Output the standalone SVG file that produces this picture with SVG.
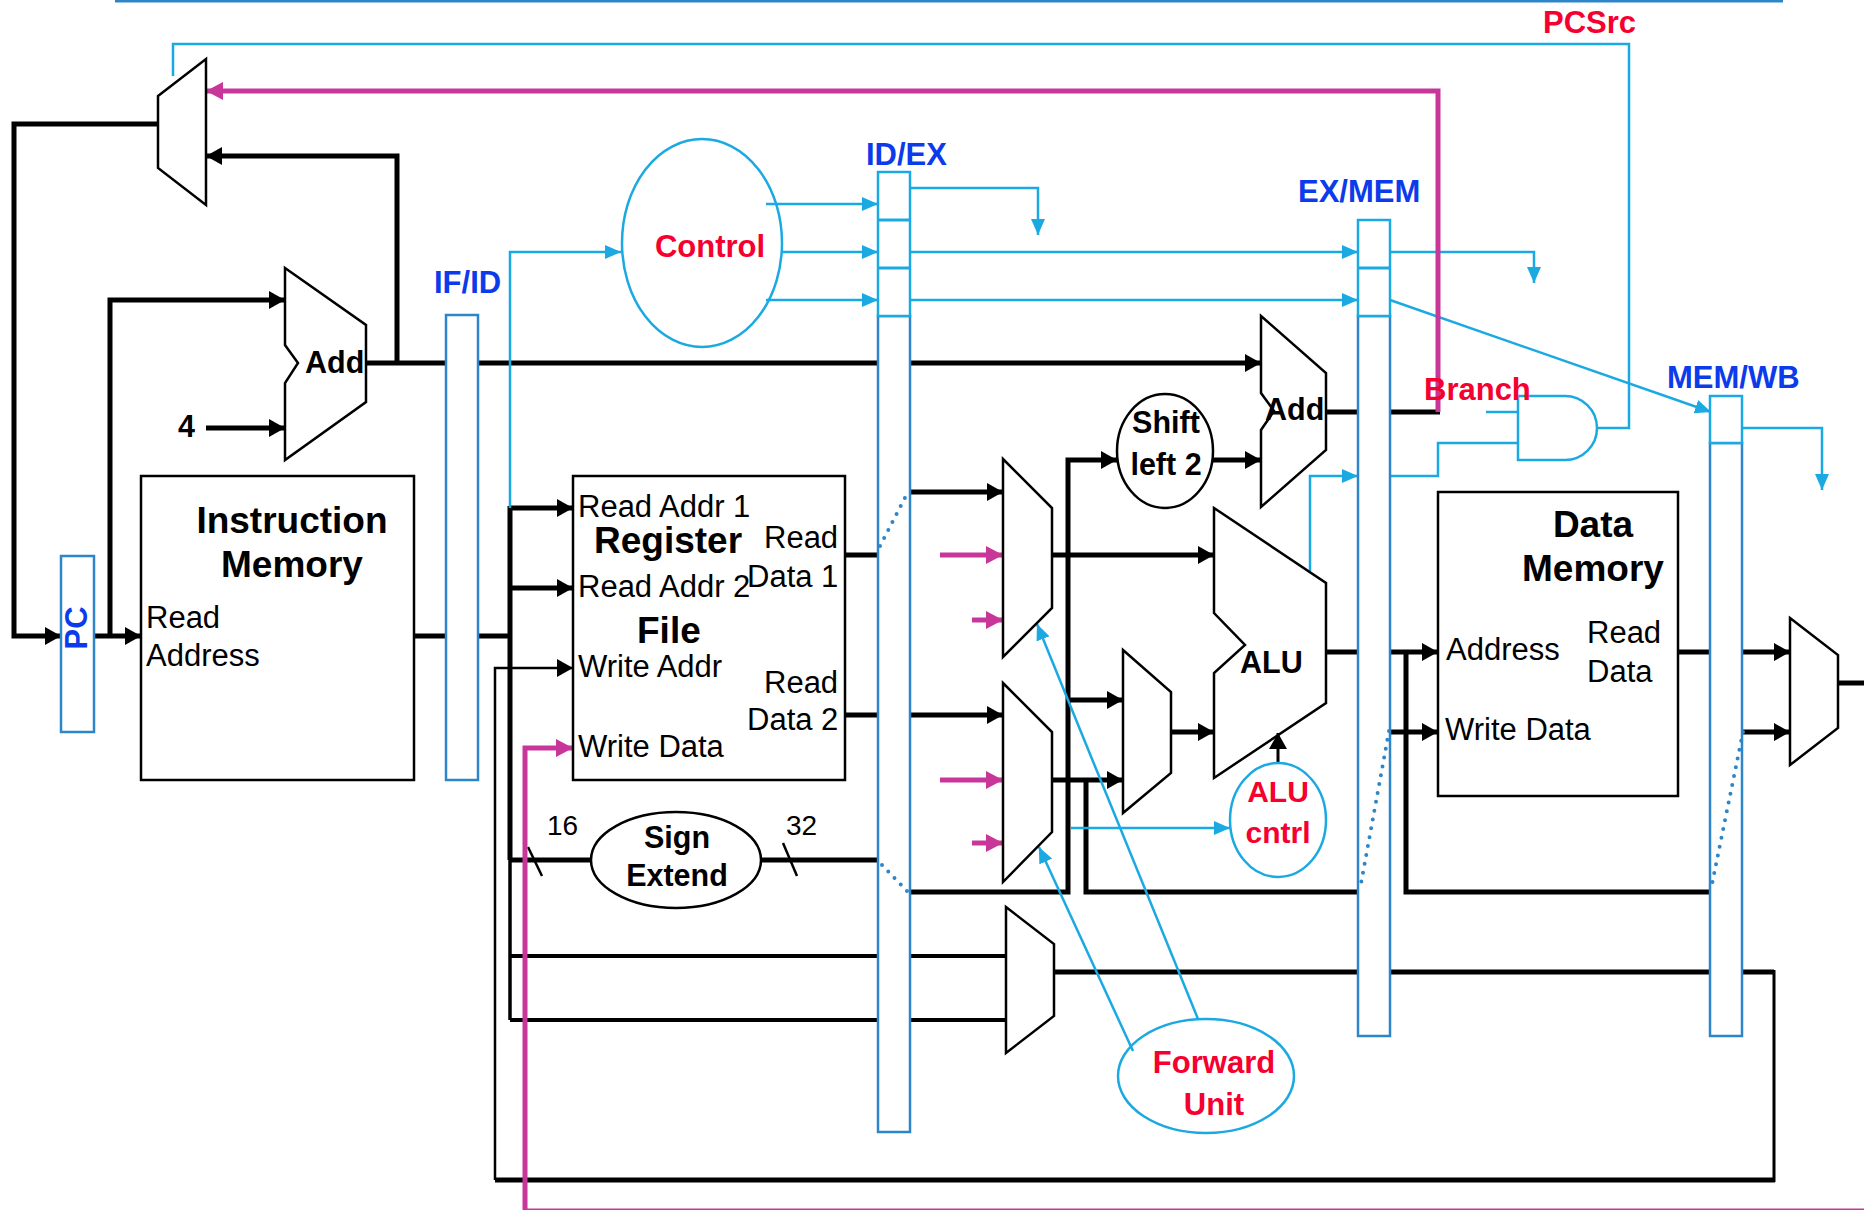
<svg xmlns="http://www.w3.org/2000/svg" width="1864" height="1210" viewBox="0 0 1864 1210">
<style>
.k{fill:none;stroke:#000;stroke-width:5}
.kt{fill:none;stroke:#000;stroke-width:2.5}
.b{fill:none;stroke:#1BA9E2;stroke-width:2.5}
.m{fill:none;stroke:#C8369A;stroke-width:5}
.reg{fill:#fff;stroke:#2E86C8;stroke-width:2.5}
.regc{fill:#fff;stroke:#1BA9E2;stroke-width:2.5}
.shape{fill:none;stroke:#000;stroke-width:2.5}
.bshape{fill:none;stroke:#1BA9E2;stroke-width:2.5}
.dot{fill:none;stroke:#2E86C8;stroke-width:4;stroke-linecap:round;stroke-dasharray:0 9}
text{font-family:"Liberation Sans",Arial,sans-serif}
.t{font-size:31px;fill:#000}
.tb{font-size:30.5px;font-weight:bold;fill:#000}
.tbig{font-size:37px;font-weight:bold;fill:#000}
.lb{font-size:31px;font-weight:bold;fill:#0B3BEA}
.lr{font-size:31px;font-weight:bold;fill:#F5002F}
.mid{text-anchor:middle}
</style>
<defs>
<marker id="ak" markerUnits="userSpaceOnUse" viewBox="0 0 16 18" refX="16" refY="9" markerWidth="16" markerHeight="18" orient="auto"><path d="M0,0 L16,9 L0,18 Z" fill="#000"/></marker>
<marker id="ab" markerUnits="userSpaceOnUse" viewBox="0 0 16 14" refX="16" refY="7" markerWidth="16" markerHeight="14" orient="auto"><path d="M0,0 L16,7 L0,14 Z" fill="#1BA9E2"/></marker>
<marker id="am" markerUnits="userSpaceOnUse" viewBox="0 0 17 18" refX="17" refY="9" markerWidth="17" markerHeight="18" orient="auto"><path d="M0,0 L17,9 L0,18 Z" fill="#C8369A"/></marker>
</defs>
<rect width="1864" height="1210" fill="#fff"/>
<g id="connectors">
<path d="M115,1 H1783" fill="none" stroke="#2E86C8" stroke-width="3"/>
<path class="k" d="M158,124 H14 V636 H61" marker-end="url(#ak)"/>
<path class="k" d="M94,636 H141" marker-end="url(#ak)"/>
<path class="k" d="M110,636 V300 H285" marker-end="url(#ak)"/>
<path class="k" d="M206,428 H285" marker-end="url(#ak)"/>
<path class="k" d="M366,363 H1261" marker-end="url(#ak)"/>
<path class="k" d="M397,363 V156 H206" marker-end="url(#ak)"/>
<path class="k" d="M414,636 H510"/>
<path class="k" d="M510,506 V860"/>
<path fill="none" stroke="#000" stroke-width="3.5" d="M510,860 V1020"/>
<path class="k" d="M510,508 H573" marker-end="url(#ak)"/>
<path class="k" d="M510,588 H573" marker-end="url(#ak)"/>
<path class="k" d="M845,555 H878"/>
<path class="k" d="M845,715 H878"/>
<path class="k" d="M510,860 H591"/>
<path class="k" d="M761,860 H878"/>
<path class="kt" d="M528,847 L542,876"/>
<path class="kt" d="M783,843 L797,876"/>
<path fill="none" stroke="#000" stroke-width="4" d="M510,956 H1006 M510,1020 H1006"/>
<path class="k" d="M1054,972 H1774"/>
<path fill="none" stroke="#000" stroke-width="3" d="M1774,970 V1182"/>
<path class="k" d="M1775,1180 H495"/>
<path class="kt" d="M495,1180 V668 H573" marker-end="url(#ak)"/>
<path class="k" d="M910,492 H1003" marker-end="url(#ak)"/>
<path class="k" d="M910,715 H1003" marker-end="url(#ak)"/>
<path class="k" d="M910,892 H1068 V460 H1117" marker-end="url(#ak)"/>
<path class="k" d="M1068,700 H1123" marker-end="url(#ak)"/>
<path class="k" d="M1052,555 H1214" marker-end="url(#ak)"/>
<path class="k" d="M1052,780 H1123" marker-end="url(#ak)"/>
<path class="k" d="M1086,780 V892 H1358"/>
<path class="k" d="M1171,732 H1214" marker-end="url(#ak)"/>
<path class="k" d="M1213,460 H1261" marker-end="url(#ak)"/>
<path class="k" d="M1326,412 H1358 M1390,412 H1440"/>
<path class="k" d="M1326,652 H1358"/>
<path class="k" d="M1390,652 H1438" marker-end="url(#ak)"/>
<path class="k" d="M1406,652 V892 H1710"/>
<path class="k" d="M1390,732 H1438" marker-end="url(#ak)"/>
<path class="k" d="M1678,652 H1710"/>
<path class="k" d="M1742,652 H1790" marker-end="url(#ak)"/>
<path class="k" d="M1742,732 H1790" marker-end="url(#ak)"/>
<path class="k" d="M1838,683 H1864"/>
<path fill="none" stroke="#000" stroke-width="3" d="M1278,763 V733" marker-end="url(#ak)"/>
<path class="b" d="M173,76 V44 H1629 V428 H1597"/>
<path class="b" d="M510,508 V252 H621" marker-end="url(#ab)"/>
<path class="b" d="M766,204 H878" marker-end="url(#ab)"/>
<path class="b" d="M782,252 H878" marker-end="url(#ab)"/>
<path class="b" d="M766,300 H878" marker-end="url(#ab)"/>
<path class="b" d="M910,188 H1038 V235" marker-end="url(#ab)"/>
<path class="b" d="M910,252 H1358" marker-end="url(#ab)"/>
<path class="b" d="M910,300 H1358" marker-end="url(#ab)"/>
<path class="b" d="M1390,252 H1534 V283" marker-end="url(#ab)"/>
<path class="b" d="M1390,300 L1711,412" marker-end="url(#ab)"/>
<path class="b" d="M1742,428 H1822 V490" marker-end="url(#ab)"/>
<path class="b" d="M1486,412 H1518"/>
<path class="b" d="M1390,476 H1438 V443 H1518"/>
<path class="b" d="M1310,571 V476 H1358" marker-end="url(#ab)"/>
<path class="b" d="M1071,828 H1230" marker-end="url(#ab)"/>
<path class="b" d="M1198,1019 L1037,624" marker-end="url(#ab)"/>
<path class="b" d="M1133,1051 L1039,847" marker-end="url(#ab)"/>
<path class="m" d="M1438,412 V91 H206" marker-end="url(#am)"/>
<path class="m" d="M1864,1211 H525 V748 H573" marker-end="url(#am)"/>
<path class="m" d="M940,555 H1003" marker-end="url(#am)"/>
<path class="m" d="M972,620 H1003" marker-end="url(#am)"/>
<path class="m" d="M940,780 H1003" marker-end="url(#am)"/>
<path class="m" d="M972,843 H1003" marker-end="url(#am)"/>
</g>
<g id="pc"><rect class="reg" x="61" y="556" width="33" height="176"/><text class="lb mid" transform="translate(87,628) rotate(-90)">PC</text></g>
<g id="if-id"><rect class="reg" x="446" y="315" width="32" height="465"/><text class="lb" x="434" y="293">IF/ID</text></g>
<g id="id-ex"><rect class="reg" x="878" y="316" width="32" height="816"/><rect class="regc" x="878" y="172" width="32" height="144"/><path d="M878,220 H910 M878,268 H910" stroke="#1BA9E2" stroke-width="3"/><text class="lb" x="866" y="165">ID/EX</text></g>
<g id="ex-mem"><rect class="reg" x="1358" y="316" width="32" height="720"/><rect class="regc" x="1358" y="220" width="32" height="96"/><path d="M1358,268 H1390" stroke="#1BA9E2" stroke-width="3"/><text class="lb" x="1298" y="202">EX/MEM</text></g>
<g id="mem-wb"><rect class="reg" x="1710" y="443" width="32" height="593"/><rect class="regc" x="1710" y="396" width="32" height="47"/><text class="lb" x="1667" y="388">MEM/WB</text></g>
<g id="dots"><path class="dot" d="M880,546 L908,492"/><path class="dot" d="M882,865 L908,892"/><path class="dot" d="M1389,731 L1360,889"/><path class="dot" d="M1743,732 L1711,889"/></g>
<g id="pc-mux"><polygon class="shape" points="158,96 206,59 206,205 158,168"/></g>
<g id="pc-adder"><polygon class="shape" points="285,268 366,325 366,402 285,460 285,383 298,363 285,345"/><text class="tb" x="305" y="373">Add</text><text class="tb" x="178" y="437">4</text></g>
<g id="instr-mem"><rect class="shape" x="141" y="476" width="273" height="304"/><text class="tbig mid" x="292" y="533">Instruction</text><text class="tbig mid" x="292" y="577">Memory</text><text class="t" x="146" y="628">Read</text><text class="t" x="146" y="666">Address</text></g>
<g id="control"><ellipse class="bshape" cx="702" cy="243" rx="80" ry="104"/><text class="lr mid" x="710" y="257">Control</text></g>
<g id="reg-file"><rect class="shape" x="573" y="476" width="272" height="304"/>
<text class="t" x="578" y="517">Read Addr 1</text><text class="tbig" x="594" y="553">Register</text><text class="t" x="764" y="548">Read</text>
<text class="t" x="578" y="597">Read Addr 2</text><text class="t" x="747" y="587">Data 1</text><text class="tbig" x="637" y="643">File</text>
<text class="t" x="578" y="677">Write Addr</text><text class="t" x="764" y="693">Read</text><text class="t" x="747" y="730">Data 2</text><text class="t" x="578" y="757">Write Data</text></g>
<g id="sign-extend"><ellipse class="shape" cx="676" cy="860" rx="85" ry="48"/><text class="tb mid" x="677" y="848">Sign</text><text class="tb mid" x="677" y="886">Extend</text><text class="t" x="547" y="835" style="font-size:28px">16</text><text class="t" x="786" y="835" style="font-size:28px">32</text></g>
<g id="fwd-mux-a"><polygon class="shape" points="1003,459 1052,508 1052,608 1003,657"/></g>
<g id="fwd-mux-b"><polygon class="shape" points="1003,683 1052,732 1052,832 1003,882"/></g>
<g id="regdst-mux"><polygon class="shape" points="1006,907 1054,944 1054,1016 1006,1053"/></g>
<g id="shift-left-2"><ellipse class="shape" cx="1165" cy="451" rx="48" ry="57"/><text class="tb mid" x="1166" y="433">Shift</text><text class="tb mid" x="1166" y="475">left 2</text></g>
<g id="branch-adder"><polygon class="shape" points="1261,316 1326,373 1326,450 1261,507 1261,430 1274,411 1261,393"/><text class="tb" x="1265" y="420">Add</text></g>
<g id="alusrc-mux"><polygon class="shape" points="1123,650 1171,692 1171,773 1123,813"/></g>
<g id="alu"><polygon class="shape" points="1214,508 1326,583 1326,703 1214,778 1214,673 1245,645 1214,613"/><text class="tb" x="1240" y="673">ALU</text></g>
<g id="alu-cntrl"><ellipse class="bshape" cx="1278" cy="820" rx="48" ry="57"/><text class="lr mid" x="1278" y="802" style="font-size:30px">ALU</text><text class="lr mid" x="1278" y="843" style="font-size:30px">cntrl</text></g>
<g id="forward-unit"><ellipse class="bshape" cx="1206" cy="1076" rx="88" ry="57"/><text class="lr mid" x="1214" y="1073">Forward</text><text class="lr mid" x="1214" y="1115">Unit</text></g>
<g id="and-gate"><path class="bshape" d="M1518,396 H1565 A32,32 0 0 1 1565,460 H1518 Z"/><text class="lr" x="1424" y="400">Branch</text></g>
<g id="pcsrc-label"><text class="lr" x="1543" y="33">PCSrc</text></g>
<g id="data-mem"><rect class="shape" x="1438" y="492" width="240" height="304"/><text class="tbig mid" x="1593" y="537">Data</text><text class="tbig mid" x="1593" y="581">Memory</text><text class="t" x="1446" y="660">Address</text><text class="t" x="1587" y="643">Read</text><text class="t" x="1587" y="682">Data</text><text class="t" x="1445" y="740">Write Data</text></g>
<g id="wb-mux"><polygon class="shape" points="1790,618 1838,655 1838,728 1790,765"/></g>
</svg>
